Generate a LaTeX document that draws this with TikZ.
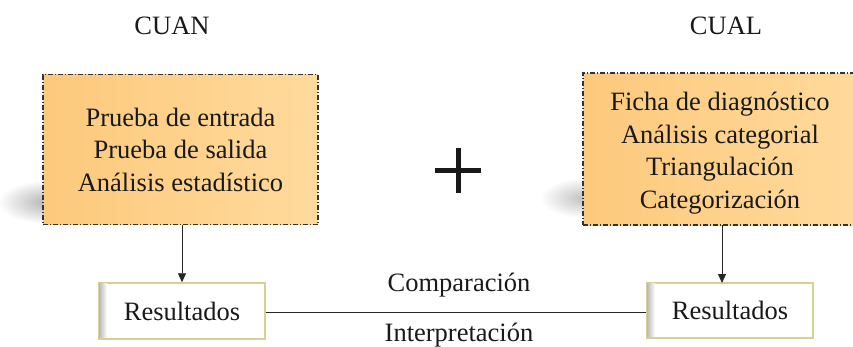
\documentclass[tikz,border=0pt]{standalone}
\usepackage{fontspec}
\setmainfont{Liberation Serif}
\usetikzlibrary{arrows.meta}
\definecolor{boxfillL}{HTML}{FDC97C}
\definecolor{boxfillR}{HTML}{FFDA9C}
\definecolor{resborder}{HTML}{D9CE95}
\begin{document}
\begin{tikzpicture}[x=1pt,y=-1pt,
  every node/.style={font=\fontsize{26.5}{32.5}\selectfont, text=black!90},
  method/.style={draw=black!80, line width=1.1pt, dash pattern=on 5pt off 2pt on 1pt off 2pt,
     left color=boxfillL, right color=boxfillR, align=center, inner sep=0pt},
  resbox/.style={draw=resborder, line width=1.5pt, fill=white, inner sep=0pt},
  conn/.style={draw=black!85, line width=0.9pt},
  arr/.style={conn, -{Triangle[length=9pt,width=8pt]}}]
\useasboundingbox (0,0) rectangle (853,346);
% shadows
\shade[inner color=gray!60, outer color=white] (48,202) ellipse [x radius=50, y radius=22];
\shade[inner color=gray!50, outer color=white] (585,198) ellipse [x radius=45, y radius=20];
% headings
\node (cuan) at (172,26) {CUAN};
\node (cual) at (726,26) {CUAL};
% method boxes
\node[method, minimum width=275pt, minimum height=150pt] (left) at (180.5,149.5)
  {Prueba de entrada\\Prueba de salida\\Análisis estadístico};
\node[method, minimum width=280pt, minimum height=152pt] (right) at (723,149)
  {};
\node[align=center] (righttext) at (720,153) {Ficha de diagnóstico\\Análisis categorial\\Triangulación\\Categorización};
% plus
\node (plus) at (458,170) {};
\draw[line width=5pt, black!90] (435,170) -- (481,170) (458,148) -- (458,193);
% result boxes
\node[resbox, minimum width=166pt, minimum height=56pt] (res1) at (182,311) {};
\shade[left color=gray!55, right color=white] ([shift={(0.75,0.75)}]res1.north west) rectangle ++(8,54.5);
\node (res1t) at (182,311) {Resultados};
\node[resbox, minimum width=166pt, minimum height=55pt] (res2) at (730,310.5) {};
\shade[left color=gray!55, right color=white] ([shift={(0.75,0.75)}]res2.north west) rectangle ++(8,53.5);
\node (res2t) at (730,310.5) {Resultados};
% connectors
\draw[arr] (left.south -| res1t.north) -- (res1.north);
\draw[arr] (722,225) -- (722,283);
\draw[conn] (res1.east |- 0,312) -- (res2.west |- 0,312);
\node (comp) at (459,285) {Comparación};
\node (interp) at (459,335) {Interpretación};
\end{tikzpicture}
\end{document}
